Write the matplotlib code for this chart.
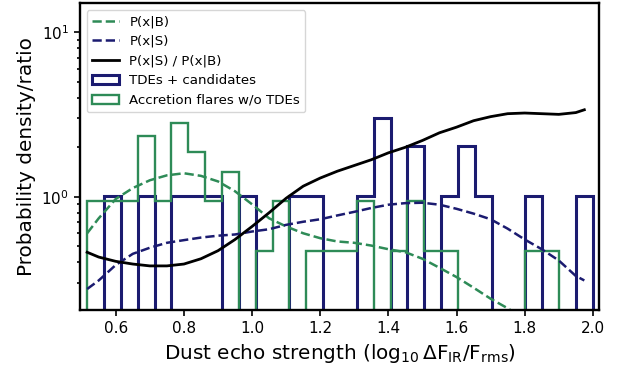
import numpy as np
import matplotlib
matplotlib.use("Agg")
import matplotlib.pyplot as plt

# ---- data ----
bin_lo, bin_hi, n_bins = 0.516, 2.0, 30

# counts per bin (30 bins)
tde_counts = [0, 1, 0, 1, 0, 1, 1, 1, 0, 1,
              0, 0, 1, 1, 0, 0, 1, 3, 0, 2,
              0, 1, 2, 1, 0, 0, 1, 0, 0, 1]
flare_counts = [2, 2, 2, 5, 2, 6, 4, 2, 3, 0,
                1, 2, 0, 1, 1, 1, 2, 0, 1, 2,
                1, 1, 0, 0, 0, 0, 1, 1, 0, 0]

curve_x = [0.516, 0.55, 0.60, 0.65, 0.70, 0.75, 0.80, 0.85, 0.90, 0.95,
           1.00, 1.05, 1.10, 1.15, 1.20, 1.25, 1.30, 1.35, 1.40, 1.45,
           1.50, 1.55, 1.60, 1.65, 1.70, 1.75, 1.80, 1.85, 1.90, 1.95, 1.975]
p_bkg = [0.60, 0.74, 0.97, 1.13, 1.26, 1.35, 1.39, 1.34, 1.24, 1.08,
         0.90, 0.74, 0.66, 0.60, 0.56, 0.535, 0.525, 0.505, 0.48, 0.46,
         0.42, 0.37, 0.325, 0.28, 0.24, 0.21, 0.18, 0.15, 0.13, 0.10, 0.093]
p_sig = [0.275, 0.31, 0.385, 0.45, 0.49, 0.525, 0.545, 0.565, 0.58, 0.59,
         0.615, 0.635, 0.675, 0.705, 0.73, 0.77, 0.81, 0.855, 0.895, 0.915,
         0.92, 0.895, 0.845, 0.79, 0.73, 0.64, 0.55, 0.48, 0.41, 0.33, 0.31]
ratio = [0.46, 0.43, 0.405, 0.39, 0.38, 0.38, 0.39, 0.42, 0.47, 0.55,
         0.66, 0.80, 0.98, 1.16, 1.30, 1.43, 1.55, 1.68, 1.85, 2.0,
         2.2, 2.45, 2.65, 2.9, 3.07, 3.2, 3.23, 3.2, 3.17, 3.25, 3.38]

navy = "#1b1b70"
green = "#2e8b57"

fig = plt.figure(figsize=(6.22, 3.70), dpi=100)
ax = fig.add_axes([0.1286, 0.1622, 0.8344, 0.8288])

edges = np.linspace(bin_lo, bin_hi, n_bins + 1)
centers = 0.5 * (edges[:-1] + edges[1:])

_, _, p1 = ax.hist(centers, bins=edges, weights=tde_counts, density=True,
                   histtype="step", color=navy, lw=2.2,
                   label="TDEs + candidates")
_, _, p2 = ax.hist(centers, bins=edges, weights=flare_counts, density=True,
                   histtype="step", color=green, lw=1.7,
                   label="Accretion flares w/o TDEs")

l1, = ax.plot(curve_x, p_bkg, "--", color=green, lw=1.8, label="P(x|B)")
l2, = ax.plot(curve_x, p_sig, "--", color=navy, lw=1.8, label="P(x|S)")
l3, = ax.plot(curve_x, ratio, "-", color="black", lw=2.0,
              label="P(x|S) / P(x|B)")

ax.set_yscale("log")
ax.set_xlim(0.495, 2.018)
ax.set_ylim(0.205, 15)
ax.set_xticks([0.6, 0.8, 1.0, 1.2, 1.4, 1.6, 1.8, 2.0])

for s in ax.spines.values():
    s.set_linewidth(1.7)
ax.tick_params(which="both", width=1.2, labelsize=11)
ax.tick_params(which="major", length=4.5)
ax.tick_params(which="minor", length=2.5)

ax.set_xlabel(r"Dust echo strength ($\log_{10}\Delta \mathrm{F}_{\mathrm{IR}}/\mathrm{F}_{\mathrm{rms}}$)",
              fontsize=14.4)
ax.set_ylabel("Probability density/ratio", fontsize=14.4)

ax.legend(handles=[l1, l2, l3, p1[0], p2[0]], loc="upper left", fontsize=9.6)

fig.savefig("out.png", dpi=100)
